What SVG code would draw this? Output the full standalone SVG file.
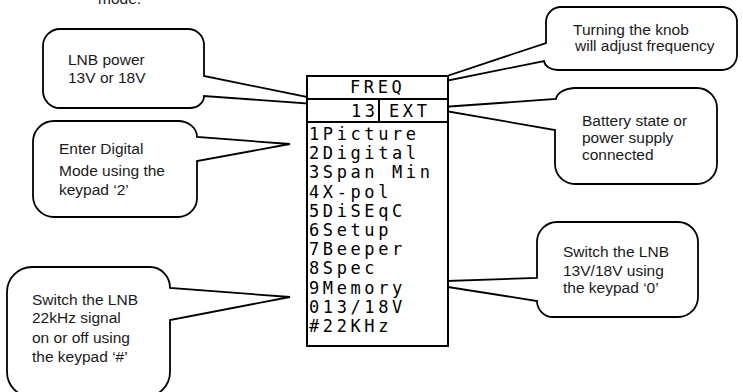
<svg xmlns="http://www.w3.org/2000/svg" width="743" height="392" viewBox="0 0 743 392">
<style>
.bub{fill:#fff;stroke:#000;stroke-width:1.8;stroke-linejoin:miter}
.t{font-family:"Liberation Sans",Arial,sans-serif;font-size:15.5px;fill:#1a1a1a}
.lcd{font-family:"DejaVu Sans Mono","Liberation Mono",monospace;font-size:17px;letter-spacing:3.6px;fill:#000}
.box{fill:#fff;stroke:#000;stroke-width:2}
</style>
<rect width="743" height="392" fill="#fff"/>
<text class="t" x="98" y="4">mode.</text>
<g id="connectors">
</g>
<g id="callout-lnb-power">
<path class="bub" d="M60 29 H188 A16 16 0 0 1 204 45 V76 L356 107 L204 96 A14 12 0 0 1 190 108 H60 A17 17 0 0 1 43 91 V46 A17 17 0 0 1 60 29 Z"/>
<text class="t" x="68" y="65">LNB power</text>
<text class="t" x="68" y="83">13V or 18V</text>
</g>
<g id="callout-digital">
<path class="bub" d="M54 121 H178 A19 16 0 0 1 197 137 L290 144 L197 161 V198 A19 19 0 0 1 178 217 H54 A21 21 0 0 1 33 196 V142 A21 21 0 0 1 54 121 Z"/>
<text class="t" x="59" y="154">Enter Digital</text>
<text class="t" x="59" y="176">Mode using the</text>
<text class="t" x="59" y="195">keypad ‘2’</text>
</g>
<g id="callout-22khz">
<path class="bub" d="M32 267 H150 A20 21 0 0 1 170 288 L290 297 L170 320 V372 A25 25 0 0 1 145 397 H32 A25 25 0 0 1 7 372 V292 A25 25 0 0 1 32 267 Z"/>
<text class="t" x="32" y="305">Switch the LNB</text>
<text class="t" x="32" y="323">22kHz signal</text>
<text class="t" x="32" y="343">on or off using</text>
<text class="t" x="32" y="362">the keypad ‘#’</text>
</g>
<g id="callout-knob">
<path class="bub" d="M561 7 H722 A15 15 0 0 1 737 22 V55 A15 15 0 0 1 722 70 H558 A14 10 0 0 1 544 61 L411 88 L546 43 V22 A15 15 0 0 1 561 7 Z"/>
<text class="t" x="573" y="35">Turning the knob</text>
<text class="t" x="575" y="51">will adjust frequency</text>
</g>
<g id="callout-battery">
<path class="bub" d="M574 88 H697 A20 20 0 0 1 717 108 V164 A20 20 0 0 1 697 184 H575 A20 20 0 0 1 555 164 V130 L428 108 L556 99 A20 12 0 0 1 574 88 Z"/>
<text class="t" x="582" y="126">Battery state or</text>
<text class="t" x="582" y="143">power supply</text>
<text class="t" x="582" y="160">connected</text>
</g>
<g id="callout-13v18v">
<path class="bub" d="M557 222 H678 A20 20 0 0 1 698 242 V297 A20 20 0 0 1 678 317 H553 A16 16 0 0 1 537 301 L416 282 L537 278 V242 A20 20 0 0 1 557 222 Z"/>
<text class="t" x="563" y="257">Switch the LNB</text>
<text class="t" x="563" y="276">13V/18V using</text>
<text class="t" x="563" y="293">the keypad ‘0’</text>
</g>
<g id="lcd-menu">
<rect class="box" x="307" y="76" width="141" height="270"/>
<line x1="307" y1="99" x2="448" y2="99" stroke="#000" stroke-width="2"/>
<line x1="307" y1="122" x2="448" y2="122" stroke="#000" stroke-width="2"/>
<line x1="379" y1="99" x2="379" y2="122" stroke="#000" stroke-width="2"/>
<text class="lcd" x="350" y="93">FREQ</text>
<text class="lcd" x="351" y="117">13</text>
<text class="lcd" x="389" y="117">EXT</text>
<text class="lcd" x="309" y="140">1Picture</text>
<text class="lcd" x="309" y="159.2">2Digital</text>
<text class="lcd" x="309" y="178.4">3Span Min</text>
<text class="lcd" x="309" y="197.6">4X-pol</text>
<text class="lcd" x="309" y="216.8">5DiSEqC</text>
<text class="lcd" x="309" y="236">6Setup</text>
<text class="lcd" x="309" y="255.2">7Beeper</text>
<text class="lcd" x="309" y="274.4">8Spec</text>
<text class="lcd" x="309" y="293.6">9Memory</text>
<text class="lcd" x="309" y="312.8">013/18V</text>
<text class="lcd" x="309" y="332">#22KHz</text>
</g>
</svg>
